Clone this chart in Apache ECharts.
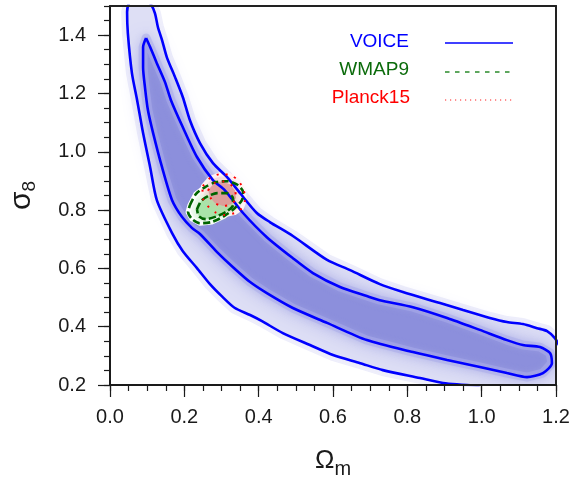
<!DOCTYPE html>
<html>
<head>
<meta charset="utf-8">
<script src="https://cdn.jsdelivr.net/npm/echarts@6/dist/echarts.min.js"></script>
<style>html,body{margin:0;padding:0;background:#fff}#c{width:585px;height:479px}</style>
</head>
<body>
<div id="c"></div>
<script>
// ---- tick labels ----
const xMajor = [0.0, 0.2, 0.4, 0.6, 0.8, 1.0, 1.2];
const yMajor = [0.2, 0.4, 0.6, 0.8, 1.0, 1.2, 1.4];

// ---- VOICE outer (2-sigma) contour: from bottom exit, up the lower/left side, over the top, down the upper side to the right edge ----
const voiceOuter = [
  [0.995,0.197],[0.896,0.207],[0.834,0.224],[0.734,0.251],[0.673,0.275],[0.600,0.303],
  [0.538,0.337],[0.465,0.378],[0.409,0.419],[0.377,0.440],[0.335,0.465],[0.302,0.503],
  [0.269,0.546],[0.234,0.601],[0.196,0.659],[0.167,0.721],[0.126,0.834],[0.108,0.947],
  [0.089,1.064],[0.073,1.177],[0.059,1.270],[0.048,1.407],[0.046,1.479],[0.051,1.509],
  [0.065,1.520],[0.097,1.520],[0.110,1.506],[0.121,1.475],[0.129,1.427],[0.140,1.383],
  [0.153,1.324],[0.175,1.256],[0.196,1.187],[0.215,1.108],[0.242,1.030],[0.277,0.961],
  [0.315,0.913],[0.350,0.858],[0.395,0.790],[0.430,0.759],[0.492,0.711],[0.584,0.629],
  [0.646,0.594],[0.726,0.546],[0.788,0.519],[0.888,0.481],[0.950,0.457],[1.022,0.430],
  [1.068,0.416],[1.111,0.409],[1.149,0.395],[1.176,0.385],[1.197,0.361],[1.208,0.337]
];
// corners that close the outer region outside the frame (bottom-right)
const voiceOuterClose = [[1.25,0.337],[1.25,0.15],[0.99,0.15]];

// ---- VOICE inner (1-sigma) contour, closed ----
const voiceInner = [
  [0.097,1.390],[0.089,1.359],[0.089,1.290],[0.094,1.222],[0.102,1.143],[0.116,1.064],
  [0.140,0.947],[0.167,0.834],[0.194,0.776],[0.221,0.738],[0.242,0.718],[0.288,0.656],
  [0.331,0.604],[0.377,0.553],[0.422,0.515],[0.492,0.464],[0.584,0.413],[0.691,0.354],
  [0.815,0.313],[0.907,0.286],[0.995,0.262],[1.068,0.241],[1.122,0.227],[1.165,0.241],
  [1.189,0.275],[1.184,0.310],[1.157,0.330],[1.111,0.337],[1.068,0.354],[0.995,0.389],
  [0.907,0.430],[0.815,0.467],[0.726,0.491],[0.691,0.505],[0.619,0.536],[0.546,0.584],
  [0.492,0.635],[0.422,0.707],[0.358,0.790],[0.309,0.868],[0.277,0.903],[0.234,0.982],
  [0.196,1.084],[0.164,1.177],[0.148,1.239],[0.126,1.304],[0.108,1.359],[0.097,1.390]
];

// ---- WMAP9 contours ----
const wmapOuter = [
  [0.215,0.817],[0.231,0.855],[0.256,0.879],[0.285,0.896],[0.317,0.899],[0.344,0.886],
  [0.358,0.862],[0.355,0.834],[0.336,0.807],[0.307,0.779],[0.274,0.759],[0.242,0.755],
  [0.221,0.769],[0.210,0.793],[0.215,0.817]
];
const wmapInner = [
  [0.234,0.803],[0.245,0.831],[0.264,0.848],[0.288,0.858],[0.315,0.858],[0.331,0.841],
  [0.331,0.817],[0.315,0.796],[0.288,0.779],[0.258,0.769],[0.239,0.779],[0.234,0.803]
];

// ---- Planck15 contours ----
const planckOuter = [
  [0.250,0.882],[0.269,0.910],[0.296,0.923],[0.323,0.920],[0.344,0.903],[0.360,0.868],
  [0.363,0.834],[0.355,0.807],[0.336,0.790],[0.309,0.783],[0.282,0.793],[0.261,0.817],
  [0.248,0.848],[0.250,0.882]
];
const planckInner = [
  [0.264,0.868],[0.280,0.892],[0.301,0.899],[0.323,0.889],[0.336,0.868],[0.339,0.841],
  [0.326,0.820],[0.304,0.814],[0.282,0.824],[0.269,0.845],[0.264,0.868]
];

const FONT = '"Liberation Sans", Arial, Helvetica, sans-serif';
const BLUE = '#0000ff', GREEN = '#006400', RED = '#ff0000';

function polygonSeries(name, pts, style, z) {
  return {
    name: name, type: 'custom', z: z, silent: true,
    data: [0],
    renderItem: function (params, api) {
      const cs = params.coordSys;
      return {
        type: 'polygon',
        shape: { points: pts.map(p => api.coord(p)) },
        style: style,
        clipPath: { type: 'rect', shape: { x: cs.x, y: cs.y, width: cs.width, height: cs.height } }
      };
    }
  };
}
function lineSeries(name, pts, color, width, type, z) {
  return {
    name: name, type: 'line', data: pts, z: z, symbol: 'none', smooth: 0.25,
    clip: true, silent: true,
    lineStyle: { color: color, width: width, type: type, cap: 'butt' }
  };
}

const chart = echarts.init(document.getElementById('c'), null, { renderer: 'canvas' });
const axisCol = '#1a1a1a';
const option = {
  animation: false,
  backgroundColor: '#fff',
  grid: { left: 110, right: 29, top: 6, bottom: 94, containLabel: false, outerBoundsMode: 'none' },
  xAxis: [
    { type: 'value', min: 0, max: 1.2, interval: 0.2, position: 'bottom', z: 10,
      axisLine: { show: true, onZero: false, lineStyle: { color: axisCol, width: 2 } },
      axisTick: { show: true, inside: false, length: 12, customValues: xMajor, lineStyle: { color: axisCol, width: 1.2 } },
      axisLabel: { show: true, customValues: xMajor, margin: 22, fontSize: 20, fontFamily: FONT, color: '#1a1a1a',
                   formatter: v => v.toFixed(1) },
      splitLine: { show: false },
      name: '{a|Ω}{b|m}', nameLocation: 'middle', nameGap: 58,
      nameTextStyle: { rich: {
        a: { fontSize: 26, fontFamily: FONT, color: '#1a1a1a', verticalAlign: 'middle' },
        b: { fontSize: 20, fontFamily: FONT, color: '#1a1a1a', verticalAlign: 'middle', padding: [16, 0, 0, 0] }
      } }
    },
    { type: 'value', min: 0, max: 1.2, interval: 0.05, position: 'bottom', z: 10,
      axisLine: { show: false }, axisTick: { show: true, length: 6, lineStyle: { color: axisCol, width: 1.2 } },
      axisLabel: { show: false }, splitLine: { show: false } },
    { type: 'value', min: 0, max: 1.2, position: 'top', z: 10,
      axisLine: { show: true, onZero: false, lineStyle: { color: '#222', width: 2 } },
      axisTick: { show: false }, axisLabel: { show: false }, splitLine: { show: false } }
  ],
  yAxis: [
    { type: 'value', min: 0.2, max: 1.5, interval: 0.2, position: 'left', z: 10,
      axisLine: { show: true, onZero: false, lineStyle: { color: axisCol, width: 2 } },
      axisTick: { show: true, inside: false, length: 12, customValues: yMajor, lineStyle: { color: axisCol, width: 1.2 } },
      axisLabel: { show: true, customValues: yMajor, margin: 24, fontSize: 20, fontFamily: FONT, color: '#1a1a1a',
                   formatter: v => v.toFixed(1) },
      splitLine: { show: false },
      name: '{a|σ}{b|8}', nameLocation: 'middle', nameRotate: 90, nameGap: 71,
      nameTextStyle: { rich: {
        a: { fontSize: 30, fontFamily: FONT, color: '#1a1a1a', verticalAlign: 'middle' },
        b: { fontSize: 19, fontFamily: FONT, color: '#1a1a1a', verticalAlign: 'middle', padding: [16, 0, 0, 0] }
      } }
    },
    { type: 'value', min: 0.2, max: 1.5, interval: 0.05, position: 'left', z: 10,
      axisLine: { show: false }, axisTick: { show: true, length: 6, lineStyle: { color: axisCol, width: 1.2 } },
      axisLabel: { show: false }, splitLine: { show: false } },
    { type: 'value', min: 0.2, max: 1.5, position: 'right', z: 10,
      axisLine: { show: true, onZero: false, lineStyle: { color: '#222', width: 2 } },
      axisTick: { show: false }, axisLabel: { show: false }, splitLine: { show: false } }
  ],
  series: [
    polygonSeries('voiceHalo', voiceOuter.concat(voiceOuterClose),
      { fill: '#e3e4f7', stroke: '#efeffb', lineWidth: 12, lineJoin: 'round' }, 1),
    polygonSeries('voiceOuterFill', voiceOuter.concat(voiceOuterClose),
      { fill: '#dedff5', shadowBlur: 6, shadowColor: '#e8e8f8' }, 1),
    polygonSeries('voiceInnerFill', voiceInner,
      { fill: '#8c8fdc', shadowBlur: 22, shadowColor: '#a3a5e4' }, 1),
    polygonSeries('voiceInnerSoft', voiceInner,
      { fill: 'none', stroke: 'rgba(170,172,233,0.55)', lineWidth: 9, lineJoin: 'round', shadowBlur: 6, shadowColor: 'rgba(170,172,233,0.6)' }, 1),
    polygonSeries('wmapOuterFill', wmapOuter, { fill: '#f3faf3', stroke: '#ffffff', lineWidth: 5, lineJoin: 'round' }, 2),
    polygonSeries('planckOuterFill', planckOuter, { fill: 'rgba(250,228,228,0.85)', stroke: '#fff4f4', lineWidth: 4, lineJoin: 'round' }, 2),
    polygonSeries('wmapInnerFill', wmapInner, { fill: '#a9e4a9', shadowBlur: 8, shadowColor: '#b5e9b5' }, 2),
    polygonSeries('planckInnerFill', planckInner, { fill: 'rgba(222,150,150,0.85)', shadowBlur: 8, shadowColor: 'rgba(235,180,180,0.9)' }, 2),
    lineSeries('VOICE', voiceOuter, BLUE, 2.6, 'solid', 3),
    lineSeries('VOICE', voiceInner, BLUE, 2.6, 'solid', 3),
    lineSeries('WMAP9', wmapOuter, GREEN, 2.6, [7, 3.5], 4),
    lineSeries('WMAP9', wmapInner, GREEN, 2.6, [7, 3.5], 4),
    lineSeries('Planck15', planckOuter, RED, 2, [2, 7], 5),
    lineSeries('Planck15', planckInner, RED, 2, [2, 7], 5)
  ],
  graphic: [
    { type: 'text', z: 20, style: { text: 'VOICE', x: 409, y: 42, align: 'right', verticalAlign: 'middle', fill: '#0000ff', font: '19px ' + FONT } },
    { type: 'line', z: 20, shape: { x1: 445, y1: 43, x2: 513, y2: 43 }, style: { stroke: '#0000ff', lineWidth: 1.6 } },
    { type: 'text', z: 20, style: { text: 'WMAP9', x: 409, y: 70, align: 'right', verticalAlign: 'middle', fill: '#0b6b0b', font: '19px ' + FONT } },
    { type: 'line', z: 20, shape: { x1: 445, y1: 72, x2: 512, y2: 72 }, style: { stroke: '#2a8a2a', lineWidth: 1.6, lineDash: [4.5, 5.5] } },
    { type: 'text', z: 20, style: { text: 'Planck15', x: 410, y: 98, align: 'right', verticalAlign: 'middle', fill: '#ff0000', font: '19px ' + FONT } },
    { type: 'line', z: 20, shape: { x1: 445, y1: 100, x2: 512, y2: 100 }, style: { stroke: '#ff2020', lineWidth: 1.2, lineDash: [1.2, 3.8] } }
  ]
};
chart.setOption(option);
</script>
</body>
</html>
